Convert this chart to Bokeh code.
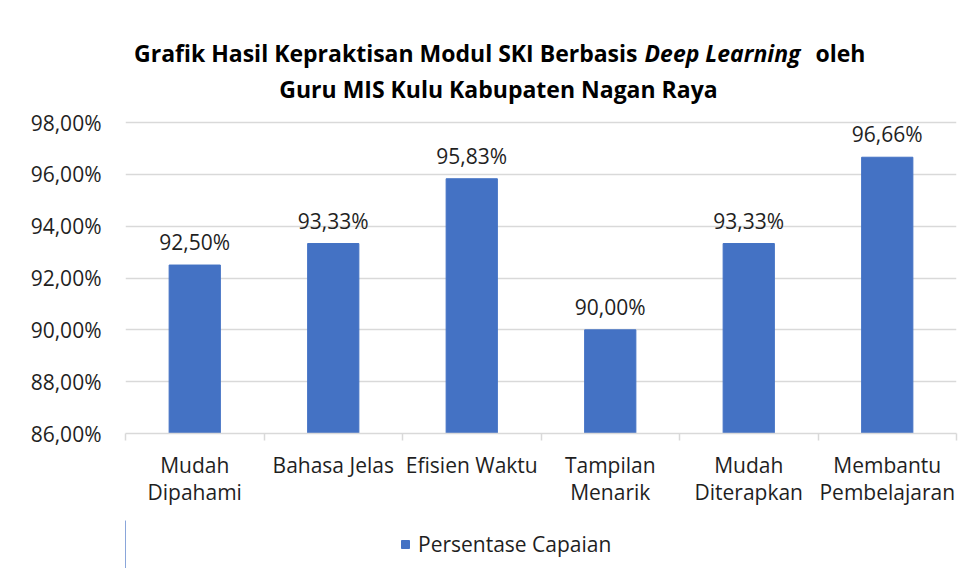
from bokeh.plotting import figure
from bokeh.layouts import column
from bokeh.models import FixedTicker, Label, Legend, LegendItem, ColumnDataSource, Range1d
from bokeh.core.properties import value
from bokeh.embed import file_html
from bokeh.resources import INLINE

categories = ["Mudah Dipahami", "Bahasa Jelas", "Efisien Waktu", "Tampilan Menarik",
              "Mudah Diterapkan", "Membantu Pembelajaran"]
tick_labels = ["Mudah\nDipahami", "Bahasa Jelas", "Efisien Waktu", "Tampilan\nMenarik",
               "Mudah\nDiterapkan", "Membantu\nPembelajaran"]
values = [92.50, 93.33, 95.83, 90.00, 93.33, 96.66]
y_ticks = [86, 88, 90, 92, 94, 96, 98]
y_tick_labels = ["86,00%", "88,00%", "90,00%", "92,00%", "94,00%", "96,00%", "98,00%"]
series_name = "Persentase Capaian"

FONT = "Open Sans"
TXT = "#1f1f1f"
BAR = "#4472C4"
GRID = "#d9d9d9"

W, H1, H2 = 966, 520, 48
# page-pixel layout of the plot frame
FL, FR, FT, FB = 125, 956, 10, 433
Y98 = 122
ppu = (FB - Y98) / (y_ticks[-1] - y_ticks[0])
y_end = y_ticks[0] + (FB - FT) / ppu

xs = [i + 0.5 for i in range(len(categories))]
labels = [("%.2f%%" % v).replace(".", ",") for v in values]
src = ColumnDataSource(dict(x=xs, top=values, label=labels, cat=categories))

p = figure(width=W, height=H1, output_backend="svg", toolbar_location=None,
           x_range=Range1d(0, len(categories)), y_range=Range1d(y_ticks[0], y_end),
           min_border_left=FL, min_border_right=W - FR, min_border_top=FT,
           min_border_bottom=H1 - FB)
p.outline_line_color = None
p.background_fill_color = "white"
p.border_fill_color = "white"

r = p.vbar(x="x", top="top", bottom=y_ticks[0], width=0.37, source=src, color=BAR)
p.text(x="x", y="top", text="label", source=src, text_align="center", text_baseline="bottom",
       y_offset=-9, text_font=value(FONT), text_font_size="21px", text_color=TXT)

# y axis
p.yaxis.ticker = FixedTicker(ticks=y_ticks)
p.yaxis.major_label_overrides = {t: l for t, l in zip(y_ticks, y_tick_labels)}
p.yaxis.axis_line_color = None
p.yaxis.major_tick_line_color = None
p.yaxis.minor_tick_line_color = None
p.yaxis.major_label_text_font = FONT
p.yaxis.major_label_text_font_size = "21px"
p.yaxis.major_label_text_color = TXT
p.yaxis.major_label_standoff = 18

# x axis
p.xaxis.ticker = FixedTicker(ticks=xs, minor_ticks=list(range(len(categories) + 1)))
p.xaxis.major_label_overrides = {x: l for x, l in zip(xs, tick_labels)}
p.xaxis.axis_line_color = GRID
p.xaxis.axis_line_width = 1.5
p.xaxis.major_tick_line_color = None
p.xaxis.minor_tick_line_color = GRID
p.xaxis.minor_tick_line_width = 1.5
p.xaxis.minor_tick_out = 7
p.xaxis.minor_tick_in = 0
p.xaxis.major_label_text_font = FONT
p.xaxis.major_label_text_font_size = "21px"
p.xaxis.major_label_text_color = TXT
p.xaxis.major_label_text_line_height = 0.97
p.xaxis.major_label_standoff = 10

p.xgrid.grid_line_color = None
p.ygrid.ticker = FixedTicker(ticks=y_ticks)
p.ygrid.grid_line_color = GRID
p.ygrid.grid_line_width = 1.5

# title (mixed upright / italic), placed in data units inside the tall frame
def lab(text, X, Y, align, style="bold"):
    p.add_layout(Label(x=(X - FL) / (FR - FL) * len(categories), y=y_ticks[0] + (FB - Y) / ppu,
                       text=text, text_align=align, text_baseline="middle", text_font=FONT,
                       text_font_size="23px", text_font_style=style, text_color="black"))

lab("Grafik Hasil Kepraktisan Modul SKI Berbasis", 637, 52, "right")
lab("Deep Learning", 644, 52, "left", "bold italic")
lab("oleh", 815, 52, "left")
lab("Guru MIS Kulu Kabupaten Nagan Raya", 498, 88, "center")

# legend strip below the chart (same side borders as the main plot so frames line up)
p2 = figure(width=W, height=H2, output_backend="svg", toolbar_location=None,
            x_range=Range1d(0, 1), y_range=Range1d(0, 1),
            min_border_left=FL, min_border_right=W - FR, min_border_top=0,
            min_border_bottom=0, x_axis_type=None, y_axis_type=None)
p2.outline_line_color = None
p2.grid.visible = False
p2.border_fill_color = "white"
r2 = p2.vbar(x=[-5], top=[1], width=0.1, color=BAR)
legend = Legend(items=[LegendItem(label=series_name, renderers=[r2])],
                location=(400 - FL, 10), orientation="horizontal",
                glyph_width=10, glyph_height=10, padding=0, margin=0, spacing=0,
                label_text_font=FONT, label_text_font_size="21px", label_text_color=TXT,
                border_line_color=None, background_fill_alpha=0, label_standoff=8)
p2.add_layout(legend)

layout = column(p, p2, spacing=0)
open("out.html", "w").write(file_html(layout, INLINE))
